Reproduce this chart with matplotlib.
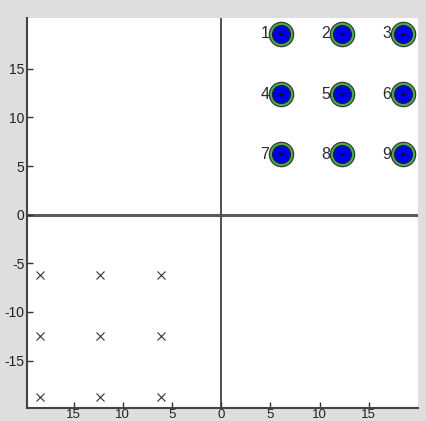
import matplotlib
matplotlib.use("Agg")
import matplotlib.pyplot as plt

# numbered targets in the upper right quadrant
target_x = [6.1, 12.25, 18.45, 6.1, 12.25, 18.45, 6.1, 12.25, 18.45]
target_y = [18.6, 18.6, 18.6, 12.4, 12.4, 12.4, 6.2, 6.2, 6.2]
target_labels = ["1", "2", "3", "4", "5", "6", "7", "8", "9"]

# crosses in the lower left quadrant
cross_x = [-18.45, -12.35, -6.15, -18.45, -12.35, -6.15, -18.45, -12.35, -6.15]
cross_y = [-6.25, -6.25, -6.25, -12.5, -12.5, -12.5, -18.7, -18.7, -18.7]

xticks = [-15, -10, -5, 0, 5, 10, 15]
xtick_labels = ["15", "10", "5", "0", "5", "10", "15"]
yticks = [-15, -10, -5, 0, 5, 10, 15]

plt.rcParams["font.family"] = ["Liberation Sans", "DejaVu Sans"]
plt.rcParams["axes.unicode_minus"] = False

fig = plt.figure(figsize=(4.27, 4.21), dpi=100, facecolor="#dedede")
ax = fig.add_axes([0.0639, 0.0316, 0.915, 0.925])
ax.set_facecolor("white")

ax.axhline(0, color="#5a5a5a", lw=2.2, zorder=1)
ax.axvline(0, color="#505050", lw=1.4, zorder=1)

ax.plot(cross_x, cross_y, "x", color="#333333", ms=6, mew=0.8, ls="none")

ax.plot(target_x, target_y, "o", ms=17.5, mfc="#46b04a", mec="#3a3a3a",
        mew=0.9, ls="none", zorder=3)
ax.plot(target_x, target_y, "o", ms=13, mfc="#0000e6", mec="#202040",
        mew=0.8, ls="none", zorder=4)
ax.plot(target_x, target_y, ".", ms=3, color="#111111", ls="none", zorder=5)
for x, y, t in zip(target_x, target_y, target_labels):
    ax.text(x - 1.2, y, t, ha="right", va="center", fontsize=11.5,
            color="#2a2a2a", zorder=6)

ax.set_xlim(-19.7, 20.0)
ax.set_ylim(-19.85, 20.2)
ax.set_xticks(xticks)
ax.set_xticklabels(xtick_labels)
ax.set_yticks(yticks)
ax.tick_params(direction="in", length=4, width=1, color="#333333",
               labelsize=10, pad=2, labelcolor="#222222")
ax.tick_params(axis="x", pad=1, labelsize=9.5)

for side in ["top", "right"]:
    ax.spines[side].set_visible(False)
for side in ["left", "bottom"]:
    ax.spines[side].set_color("#444444")
    ax.spines[side].set_linewidth(1.5)

fig.savefig("out.png", dpi=100, facecolor=fig.get_facecolor())
